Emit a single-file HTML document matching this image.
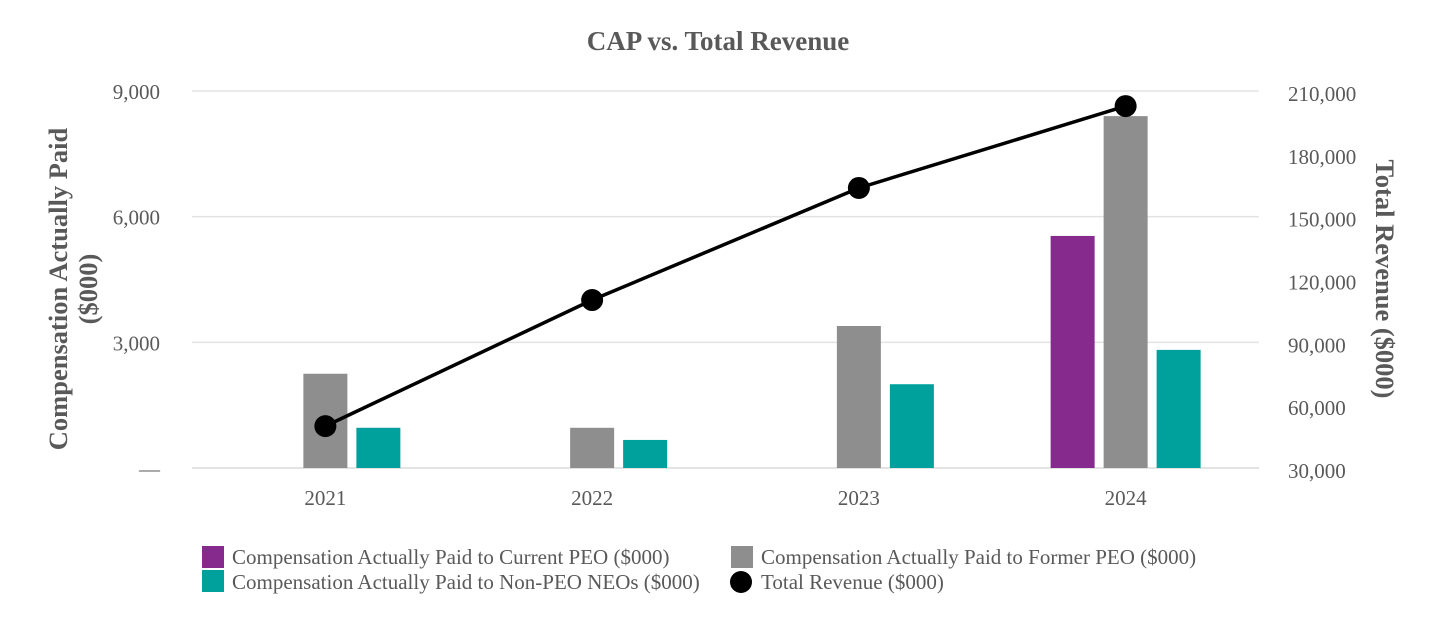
<!DOCTYPE html>
<html><head><meta charset="utf-8"><style>
body{margin:0;background:#fff;}
svg text{font-family:"Liberation Serif",serif;}
</style></head><body>
<svg id="chart" width="1440" height="632">
<text x="718" y="50" text-anchor="middle" font-size="27" font-weight="bold" fill="#595959">CAP vs. Total Revenue</text>
<g id="grid"></g><g id="bars"></g><g id="line"></g><g id="axes"></g>
<text transform="translate(67,289) rotate(-90)" text-anchor="middle" font-size="26.5" font-weight="bold" fill="#595959"><tspan x="0" dy="0">Compensation Actually Paid</tspan><tspan x="0" dy="30">($000)</tspan></text>
<text transform="translate(1376,279) rotate(90)" text-anchor="middle" font-size="26.5" font-weight="bold" fill="#595959">Total Revenue ($000)</text>
<g font-size="21" fill="#595959">
<rect x="202" y="546" width="22" height="22" fill="#862a8e"/>
<text x="232" y="564">Compensation Actually Paid to Current PEO ($000)</text>
<rect x="731" y="546" width="22" height="22" fill="#8e8e8e"/>
<text x="761" y="564">Compensation Actually Paid to Former PEO ($000)</text>
<rect x="202" y="570" width="22" height="22" fill="#00a19c"/>
<text x="232" y="589">Compensation Actually Paid to Non-PEO NEOs ($000)</text>
<circle cx="741" cy="582" r="11" fill="#000"/>
<text x="761" y="589">Total Revenue ($000)</text>
</g>
</svg>
<script>
const years=["2021","2022","2023","2024"];
const currentPeo=[null,null,null,5540];
const formerPeo=[2250,960,3390,8400];
const nonPeo=[960,670,2000,2820];
const revenue=[50000,110200,163700,202800];
const leftTicks=[0,3000,6000,9000];
const leftTickLabels=["—","3,000","6,000","9,000"];
const rightTicks=[30000,60000,90000,120000,150000,180000,210000];
const rightTickLabels=["30,000","60,000","90,000","120,000","150,000","180,000","210,000"];

const NS="http://www.w3.org/2000/svg";
const x0=192,x1=1259,yTop=91,yBot=468;
const band=(x1-x0)/years.length;
const xc=i=>x0+band*(i+0.5);
const yL=v=>yBot-(v/9000)*(yBot-yTop);
const yR=v=>yBot-((v-30000)/180000)*(yBot-yTop);
function mk(tag,attrs,parent){const e=document.createElementNS(NS,tag);for(const k in attrs)e.setAttribute(k,attrs[k]);document.getElementById(parent).appendChild(e);return e;}

leftTicks.forEach((t,i)=>{
  const g=mk("line",{x1:x0,x2:x1,y1:yL(t),y2:yL(t),stroke:"#e3e3e3","stroke-width":t===0?2:1.5},"grid");
  
  
  const tx=mk("text",{x:t===0?160:160,y:yL(t)+8,"text-anchor":"end","font-size":"21",fill:"#595959"},"axes");
  tx.textContent=leftTickLabels[i];
  
  
});
rightTicks.forEach((t,i)=>{
  const tx=mk("text",{x:1288,y:yR(t)+10,"font-size":"21",fill:"#595959"},"axes");
  tx.textContent=rightTickLabels[i];
  
  
});
years.forEach((y,i)=>{
  const tx=mk("text",{x:xc(i),y:505,"text-anchor":"middle","font-size":"21",fill:"#595959"},"axes");
  tx.textContent=y;
  
  
});
const series=[[currentPeo,"#862a8e","bar-current-peo"],[formerPeo,"#8e8e8e","bar-former-peo"],[nonPeo,"#00a19c","bar-non-peo"]];
const bw=44,step=53;
series.forEach((s,si)=>{
  s[0].forEach((v,i)=>{
    if(v==null)return;
    const cx=xc(i)+(si-1)*step;
    const r=mk("rect",{x:cx-bw/2,y:yL(v),width:bw,height:yBot-yL(v),fill:s[1]},"bars");
    
    
  });
});
const pl=mk("polyline",{points:revenue.map((v,i)=>xc(i)+","+yR(v)).join(" "),fill:"none",stroke:"#000","stroke-width":3.5},"line");


revenue.forEach((v,i)=>{
  const c=mk("circle",{cx:xc(i),cy:yR(v),r:11,fill:"#000"},"line");
  
  
});
</script>
</body></html>
